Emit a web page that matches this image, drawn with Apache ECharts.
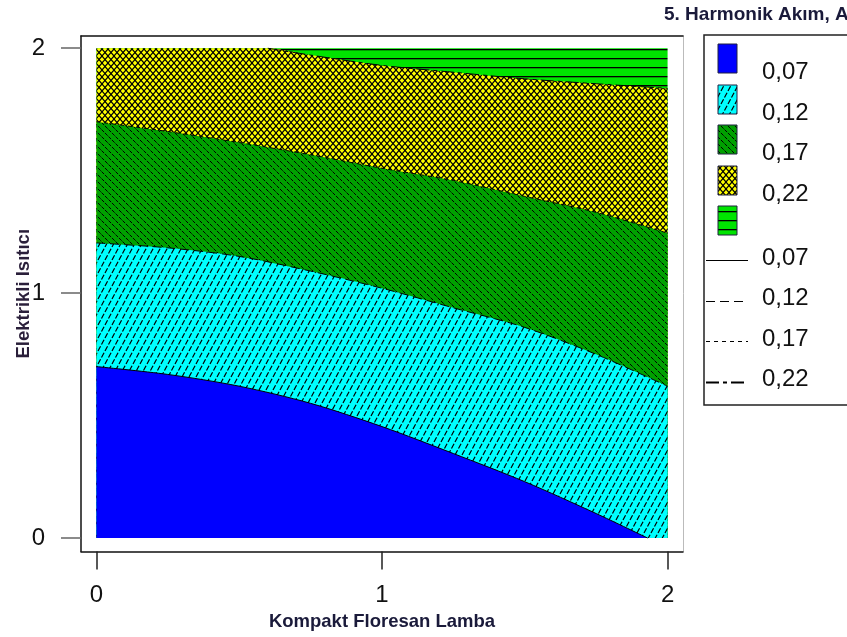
<!DOCTYPE html>
<html><head><meta charset="utf-8">
<script src="https://cdn.jsdelivr.net/npm/echarts@6/dist/echarts.min.js"></script>
<style>html,body{margin:0;padding:0;background:#fff}#c{width:847px;height:637px}</style>
</head><body><div id="c"></div>
<script>
// ---- text ----
const chartTitle = '5. Harmonik Akım, A';
const xAxisTitle = 'Kompakt Floresan Lamba';
const yAxisTitle = 'Elektrikli Isıtıcı';
const xTicks = [0, 1, 2];
const yTicks = [0, 1, 2];
const levelLabels = ['0,07', '0,12', '0,17', '0,22'];

// ---- data domain ----
const domainX = [0, 2];
const domainY = [0, 2];

// ---- contour boundaries (x, y) ----
const c007X = [0, 0.25, 0.5, 0.75, 1, 1.25, 1.5, 1.75, 1.93];
const c007Y = [0.70, 0.668, 0.62, 0.55, 0.455, 0.345, 0.23, 0.10, 0];
const c012X = [0, 0.25, 0.5, 0.75, 1, 1.25, 1.5, 1.75, 2];
const c012Y = [1.205, 1.185, 1.15, 1.09, 1.02, 0.94, 0.86, 0.75, 0.62];
const c017X = [0, 0.25, 0.5, 0.75, 1, 1.25, 1.5, 1.75, 2];
const c017Y = [1.70, 1.66, 1.615, 1.565, 1.51, 1.46, 1.395, 1.33, 1.245];
const c022X = [0.6, 0.75, 1, 1.25, 1.5, 1.75, 2];
const c022Y = [2.0, 1.972, 1.93, 1.902, 1.875, 1.855, 1.836];

const zip = (xs, ys) => xs.map((x, i) => [x, ys[i]]);

// ---- hatch patterns ----
function tile(w, h, bg, draw) {
  const c = document.createElement('canvas');
  c.width = w; c.height = h;
  const ctx = c.getContext('2d');
  ctx.fillStyle = bg; ctx.fillRect(0, 0, w, h);
  ctx.strokeStyle = '#000'; ctx.fillStyle = '#000'; ctx.lineWidth = 1;
  draw(ctx, w, h);
  return { image: c, repeat: 'repeat' };
}
function slashLines(ctx, w, h, dash) {
  const L = Math.hypot(w, h);
  if (dash) ctx.setLineDash([L / 2 - dash, dash]);
  for (let k = -1; k <= 1; k++) {
    ctx.beginPath(); ctx.moveTo(-w, 2 * h + k * h); ctx.lineTo(2 * w, -h + k * h); ctx.stroke();
  }
  ctx.setLineDash([]);
}
function backLines(ctx, w, h, dash) {
  const L = Math.hypot(w, h);
  if (dash) ctx.setLineDash([L / 2 - dash, dash]);
  for (let k = -1; k <= 1; k++) {
    ctx.beginPath(); ctx.moveTo(-w, -h + k * h); ctx.lineTo(2 * w, 2 * h + k * h); ctx.stroke();
  }
  ctx.setLineDash([]);
}
const fillBlue = '#0000ff';
const fillCyan = tile(7, 13, '#00ffff', (ctx, w, h) => { ctx.lineWidth = 1.2; slashLines(ctx, w, h, 2); });
const fillGreen = tile(7, 7, '#00a000', (ctx, w, h) => backLines(ctx, w, h, 1.2));
const fillYellow = tile(6, 7, '#ffff00', (ctx, w, h) => { ctx.lineWidth = 1.2; slashLines(ctx, w, h, 0); backLines(ctx, w, h, 0); });
const fillBright = tile(8, 9, '#00e400', (ctx, w, h) => { ctx.fillRect(0, 4, w, 1.3); });
const fills = [fillBlue, fillCyan, fillGreen, fillYellow, fillBright];
const lineDashes = ['solid', [9, 5], [4, 4], [13, 4, 4, 4]];
const lineWidths = [1, 1, 1, 2];

const SM = 0.3;
function fillSeries(data, color) {
  return { type: 'line', data, smooth: SM, symbol: 'none', silent: true,
    lineStyle: { width: 0, opacity: 0 },
    areaStyle: { color, opacity: 1, origin: 'auto' } };
}
function contourSeries(data, i) {
  return { type: 'line', data, smooth: SM, symbol: 'none', silent: true, z: 5,
    lineStyle: { color: '#000', width: 1, type: lineDashes[i] } };
}

const series = [
  fillSeries([[domainX[0], domainY[1]], [domainX[1], domainY[1]]], fillBright),
  fillSeries([[domainX[0], domainY[1]]].concat(zip(c022X, c022Y)), fillYellow),
  fillSeries(zip(c017X, c017Y), fillGreen),
  fillSeries(zip(c012X, c012Y), fillCyan),
  fillSeries(zip(c007X, c007Y), fillBlue),
  contourSeries(zip(c007X, c007Y), 0),
  contourSeries(zip(c012X, c012Y), 1),
  contourSeries(zip(c017X, c017Y), 2),
  contourSeries(zip(c022X, c022Y), 3)
];

// ---- legend (graphic) ----
const FONT = 'Liberation Sans, Arial, sans-serif';
const graphic = [{ type: 'rect', z: 0, shape: { x: 704, y: 35, width: 200, height: 370 },
  style: { fill: '#fff', stroke: '#222', lineWidth: 1.5 } }];
fills.forEach((f, i) => {
  graphic.push({ type: 'rect', z: 1, shape: { x: 718, y: Math.round(44 + i * 40.5), width: 19, height: 29 },
    style: { fill: f, stroke: '#202040', lineWidth: 1 } });
});
levelLabels.forEach((t, i) => {
  const ly = Math.round(260 + i * 40.5) + 0.5;
  graphic.push({ type: 'text', z: 1, x: 762, y: 72.5 + i * 40.5,
    style: { text: t, fontSize: 24, fontFamily: FONT, fill: '#111', verticalAlign: 'middle' } });
  graphic.push({ type: 'line', z: 1, shape: { x1: 706, y1: ly, x2: 748, y2: ly },
    style: { stroke: '#000', lineWidth: lineWidths[i], lineDash: lineDashes[i] === 'solid' ? null : lineDashes[i] } });
  graphic.push({ type: 'text', z: 1, x: 762, y: 258 + i * 40.5,
    style: { text: t, fontSize: 24, fontFamily: FONT, fill: '#111', verticalAlign: 'middle' } });
});

const chart = echarts.init(document.getElementById('c'), null, { renderer: 'canvas' });
chart.setOption({
  animation: false,
  backgroundColor: '#fff',
  title: { text: chartTitle, left: 664, top: 5, padding: 0,
    textStyle: { fontSize: 19, fontWeight: 'bold', color: '#1a1a3a', fontFamily: FONT } },
  grid: { left: 81, top: 36, width: 602, height: 515.5, containLabel: false, outerBoundsMode: 'none' },
  xAxis: [
    { type: 'value', min: -0.054, max: 2.054, position: 'bottom',
      splitLine: { show: false },
      axisLine: { show: true, onZero: false, lineStyle: { color: '#111', width: 1.5 } },
      axisTick: { show: true, customValues: xTicks, length: 18, lineStyle: { color: '#222', width: 1.5 } },
      axisLabel: { customValues: xTicks, margin: 32, fontSize: 24, color: '#111', fontFamily: FONT },
      name: xAxisTitle, nameLocation: 'middle', nameGap: 61, nameMoveOverlap: false,
      nameTextStyle: { fontSize: 18.5, fontWeight: 'bold', color: '#1a1a3a', fontFamily: FONT } },
    { type: 'value', min: -0.054, max: 2.054, position: 'top',
      splitLine: { show: false }, axisTick: { show: false }, axisLabel: { show: false },
      axisLine: { show: true, onZero: false, lineStyle: { color: '#111', width: 1.5 } } }
  ],
  yAxis: [
    { type: 'value', min: -0.055, max: 2.05, position: 'left',
      splitLine: { show: false },
      axisLine: { show: true, onZero: false, lineStyle: { color: '#111', width: 1.5 } },
      axisTick: { show: true, customValues: yTicks, length: 20, lineStyle: { color: '#666', width: 1.5 } },
      axisLabel: { customValues: yTicks, margin: 36, fontSize: 24, color: '#111', fontFamily: FONT },
      name: yAxisTitle, nameLocation: 'middle', nameGap: 48, nameMoveOverlap: false,
      nameTextStyle: { fontSize: 18.5, fontWeight: 'bold', color: '#2a1f3a', fontFamily: FONT } },
    { type: 'value', min: -0.055, max: 2.05, position: 'right',
      splitLine: { show: false }, axisTick: { show: false }, axisLabel: { show: false },
      axisLine: { show: true, onZero: false, lineStyle: { color: '#bbb', width: 1 } } }
  ],
  series,
  graphic
});
</script>
</body></html>
